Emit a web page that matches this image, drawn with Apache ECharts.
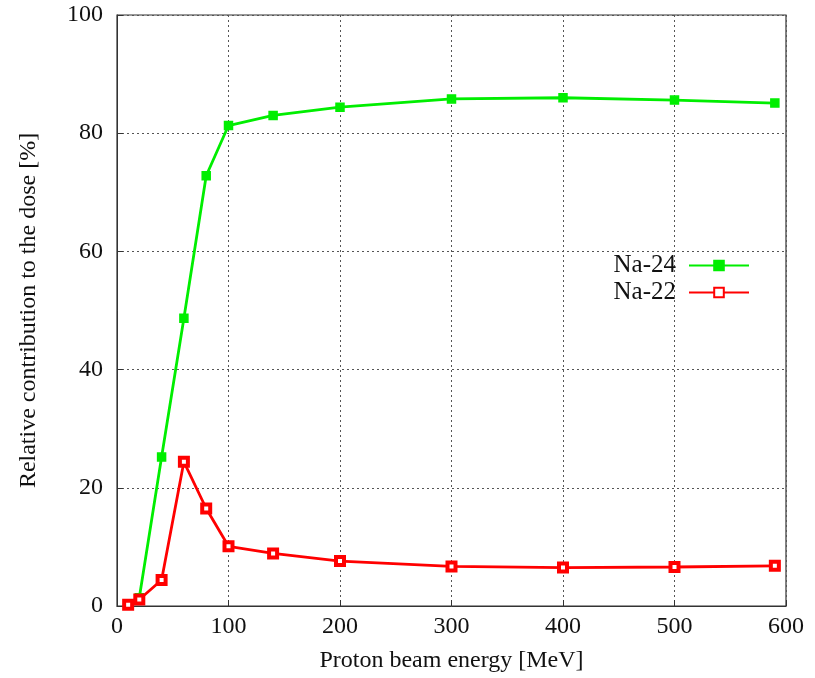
<!DOCTYPE html>
<html><head><meta charset="utf-8">
<script src="https://cdn.jsdelivr.net/npm/echarts@6/dist/echarts.min.js"></script>
<style>html,body{margin:0;padding:0;background:#fff}#c{width:815px;height:678px}</style>
</head><body><div id="c"></div>
<script>
const energies = [10, 20, 40, 60, 80, 100, 140, 200, 300, 400, 500, 590];
const na24 = [0.3, 1.4, 25.2, 48.7, 72.8, 81.3, 83.0, 84.4, 85.8, 86.0, 85.6, 85.1];
const na22 = [0.2, 1.1, 4.4, 24.4, 16.5, 10.1, 8.9, 7.6, 6.7, 6.5, 6.6, 6.8];
const seriesNames = ['Na-24', 'Na-22'];
const xTitle = 'Proton beam energy [MeV]';
const yTitle = 'Relative contribution to the dose [%]';

const font = 'Liberation Serif';
const chart = echarts.init(document.getElementById('c'));
const gridLine = {show: true, lineStyle: {color: '#555', type: [2, 3], width: 1}};
chart.setOption({
  animation: false,
  textStyle: {fontFamily: font},
  grid: {left: 117, top: 15, width: 669, height: 592, show: true, borderColor: '#333', borderWidth: 1.2, backgroundColor: 'transparent'},
  legend: {
    orient: 'vertical', right: 65, top: 253, align: 'right', itemWidth: 60, itemHeight: 12, itemGap: 2, padding: 0,
    textStyle: {fontFamily: font, fontSize: 25, color: '#111', padding: [0, 8, 0, 0]},
    data: seriesNames
  },
  xAxis: {
    type: 'value', min: 0, max: 600, interval: 100,
    name: xTitle, nameLocation: 'middle', nameGap: 43,
    nameTextStyle: {fontFamily: font, fontSize: 24, color: '#111'},
    axisLine: {show: true, onZero: false, lineStyle: {color: '#333'}},
    axisTick: {show: true, inside: true, length: 6, lineStyle: {color: '#333'}},
    axisLabel: {fontFamily: font, fontSize: 24, color: '#111', margin: 9},
    splitLine: gridLine
  },
  yAxis: {
    type: 'value', min: 0, max: 100, interval: 20,
    name: yTitle, nameLocation: 'middle', nameGap: 76,
    nameTextStyle: {fontFamily: font, fontSize: 24, color: '#111'},
    axisLine: {show: true, onZero: false, lineStyle: {color: '#333'}},
    axisTick: {show: true, inside: true, length: 6, lineStyle: {color: '#333'}},
    axisLabel: {fontFamily: font, fontSize: 24, color: '#111', margin: 14},
    splitLine: gridLine
  },
  series: [
    {
      name: seriesNames[0], type: 'line', data: energies.map((e, i) => [e, na24[i]]),
      symbol: 'rect', symbolSize: 8, showAllSymbol: true,
      lineStyle: {color: '#00ee00', width: 2.8},
      itemStyle: {color: '#00ee00', borderColor: '#00ee00', borderWidth: 1.5},
      z: 3
    },
    {
      name: seriesNames[1], type: 'line', data: energies.map((e, i) => [e, na22[i]]),
      symbol: 'rect', symbolSize: 8, showAllSymbol: true,
      lineStyle: {color: '#ff0000', width: 2.8},
      itemStyle: {color: '#ffffff', borderColor: '#ff0000', borderWidth: 4},
      z: 4
    }
  ]
});
</script></body></html>
